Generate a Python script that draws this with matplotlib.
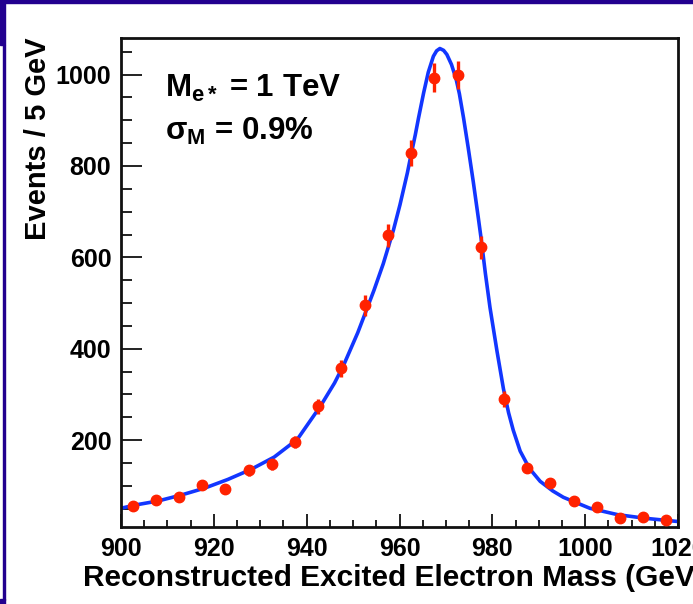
import numpy as np
import matplotlib
matplotlib.use("Agg")
import matplotlib.pyplot as plt
from matplotlib.patches import Rectangle
from matplotlib.ticker import MultipleLocator

plt.rcParams['font.family'] = ['Liberation Sans', 'DejaVu Sans']
plt.rcParams['font.weight'] = 'bold'
plt.rcParams['mathtext.fontset'] = 'custom'
plt.rcParams['mathtext.rm'] = 'Liberation Sans:bold'
plt.rcParams['mathtext.it'] = 'Liberation Sans:bold'
plt.rcParams['mathtext.bf'] = 'Liberation Sans:bold'

# binned events, 5 GeV bins
bin_centers = [902.5, 907.5, 912.5, 917.5, 922.5, 927.5, 932.5, 937.5, 942.5, 947.5,
               952.5, 957.5, 962.5, 967.5, 972.5, 977.5, 982.5, 987.5, 992.5, 997.5,
               1002.5, 1007.5, 1012.5, 1017.5]
events = [56, 70, 75, 102, 93, 134, 147, 196, 274, 357,
          495, 648, 828, 993, 999, 622, 290, 139, 107, 67,
          54, 30, 31, 25]

# fitted line shape
fit_mass = [900, 903, 908, 913, 918, 923, 928, 933, 938, 943, 946, 948, 951, 953,
            954.5, 956.5, 958.7, 960.1, 961.7, 962.5, 963.4, 964.1, 965.2, 966.2,
            967.3, 968, 968.7, 969.5, 970.2, 971.2, 972.2, 972.9, 973.8, 974.8,
            975.9, 977, 977.6, 978.5, 979.5, 981, 982.4, 983.5, 984.5, 986, 988,
            990.3, 993, 995.3, 1001, 1007, 1013, 1020]
fit_events = [51, 58, 67, 80, 95, 114, 136, 163, 202, 275, 325, 365, 435, 488,
              528, 586, 660, 715, 785, 825, 868, 905, 960, 1005,
              1040, 1052, 1057, 1053, 1044, 1022, 990, 958, 905, 840,
              765, 685, 640, 565, 490, 395, 312, 260, 222, 176, 138,
              110, 89, 75, 51, 37, 29, 22]

W, H = 693, 604
fig = plt.figure(figsize=(W / 100, H / 100), dpi=100)

# slide frame pieces
navy = '#22008f'
fig.patches.append(Rectangle((0, 1 - 3 / H), 1, 3 / H, transform=fig.transFigure,
                             color=navy, zorder=0))
fig.patches.append(Rectangle((0, 1 - 45 / H), 5 / W, 45 / H, transform=fig.transFigure,
                             color=navy, zorder=0))
fig.patches.append(Rectangle((3 / W, 4 / H), 2 / W, 1 - 49 / H, transform=fig.transFigure,
                             color=navy, zorder=0))
fig.patches.append(Rectangle((0, 0), 5 / W, 5 / H, transform=fig.transFigure,
                             color=navy, zorder=0))

ax = fig.add_axes([121 / W, 1 - 527 / H, 557 / W, 489 / H])

ax.plot(fit_mass, fit_events, color='#1236ff', lw=2.6, zorder=2)
ax.errorbar(bin_centers, events, yerr=np.sqrt(events), fmt='o', color='#ff2200',
            ms=7.5, elinewidth=2.4, capsize=0, zorder=3)

ax.set_xlim(900, 1020)
ax.set_ylim(10, 1080)
ax.xaxis.set_major_locator(MultipleLocator(20))
ax.xaxis.set_minor_locator(MultipleLocator(5))
ax.yaxis.set_major_locator(MultipleLocator(200))
ax.yaxis.set_minor_locator(MultipleLocator(50))
ax.tick_params(axis='both', which='both', direction='in', top=False, right=False,
               labelsize=18, width=1.4, color='#222222')
ax.tick_params(axis='y', which='major', length=15, pad=7)
ax.tick_params(axis='y', which='minor', length=8)
ax.tick_params(axis='x', which='major', length=9.5, pad=7)
ax.tick_params(axis='x', which='minor', length=5)
for lab in ax.get_xticklabels() + ax.get_yticklabels():
    lab.set_fontweight('bold')
for sp in ax.spines.values():
    sp.set_linewidth(2.0)
    sp.set_color('#111111')

ax.set_ylabel('Events / 5 GeV', fontsize=21, fontweight='bold', loc='top', labelpad=2.5)
fig.text(83 / W, 1 - 578 / H, 'Reconstructed Excited Electron Mass (GeV)',
         fontsize=21.5, fontweight='bold', ha='left', va='center')

ax.text(0.079, 0.879, r'$M_{e*}$ = 1 TeV', transform=ax.transAxes,
        fontsize=22.5, fontweight='bold', ha='left', va='baseline')
ax.text(0.079, 0.791, r'$\sigma_{M}$ = 0.9%', transform=ax.transAxes,
        fontsize=22.5, fontweight='bold', ha='left', va='baseline')

fig.savefig('out.png', dpi=100)
